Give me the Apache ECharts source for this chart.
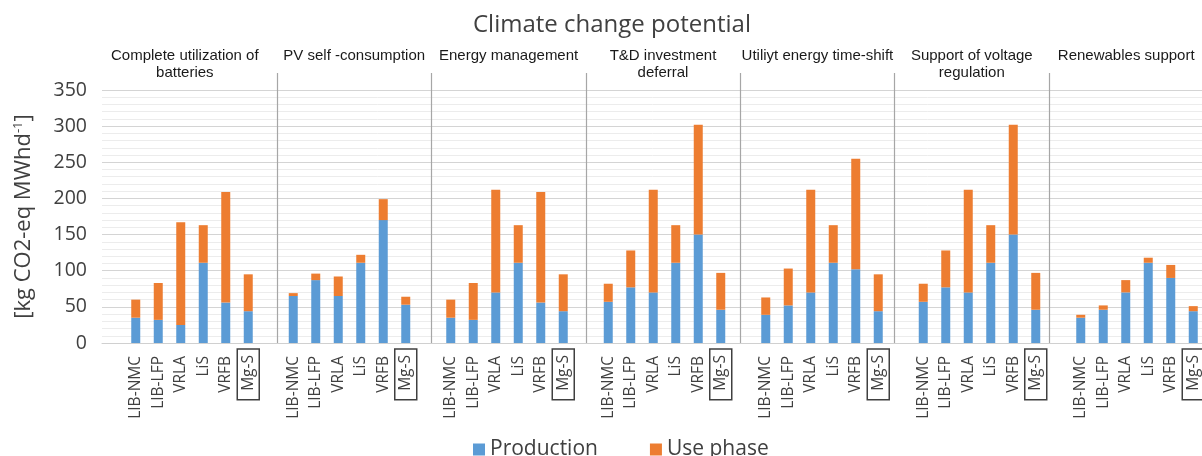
<!DOCTYPE html>
<html>
<head>
<meta charset="utf-8">
<script src="https://cdn.jsdelivr.net/npm/echarts@6/dist/echarts.min.js"></script>
<style>
  html, body { margin: 0; padding: 0; background: #fff; }
  #chart { width: 1202px; height: 456px; }
</style>
</head>
<body>
<div id="chart"></div>
<script>
// ---- data ----
const groups = [
  'Complete utilization of\nbatteries',
  'PV self -consumption',
  'Energy management',
  'T&D investment\ndeferral',
  'Utiliyt energy time-shift',
  'Support of voltage\nregulation',
  'Renewables support'
];
const technologies = ['LIB-NMC', 'LIB-LFP', 'VRLA', 'LiS', 'VRFB', 'Mg-S'];
const highlighted = 'Mg-S';
const yTicks = { min: 0, max: 350, step: 50 };

// Production [kg CO2-eq MWhd-1], one row per application group
const production = [
  [35, 32, 25, 111, 56, 44],
  [65, 87, 65, 111, 170, 53],
  [35, 32, 70, 111, 56, 44],
  [57, 77, 70, 111, 150, 46],
  [39, 52, 70, 111, 102, 44],
  [57, 77, 70, 111, 150, 46],
  [35, 46, 70, 111, 90, 44]
];
// Use phase [kg CO2-eq MWhd-1]
const usePhase = [
  [25, 51, 142, 52, 153, 51],
  [4, 9, 27, 11, 29, 11],
  [25, 51, 142, 52, 153, 51],
  [25, 51, 142, 52, 152, 51],
  [24, 51, 142, 52, 153, 51],
  [25, 51, 142, 52, 152, 51],
  [4, 6, 17, 7, 18, 7]
];

// ---- build category axis: each group = one empty slot + 6 technologies ----
const categories = [];
const prodData = [];
const useData = [];
groups.forEach((g, gi) => {
  categories.push(gi + '|');
  prodData.push(null);
  useData.push(null);
  technologies.forEach((t, ti) => {
    categories.push(gi + '|' + t);
    prodData.push(production[gi][ti]);
    useData.push(usePhase[gi][ti]);
  });
});

const SANS = '"Open Sans", "Noto Sans", sans-serif';
const ARIAL = '"Liberation Sans", Arial, sans-serif';

const chart = echarts.init(document.getElementById('chart'), null, { renderer: 'canvas' });
chart.setOption({
  animation: false,
  backgroundColor: '#ffffff',
  title: {
    text: 'Climate change potential',
    left: 468,
    top: 8,
    textStyle: { fontFamily: SANS, fontSize: 24, fontWeight: 'normal', color: '#404040' }
  },
  legend: {
    left: 468,
    top: 434,
    itemWidth: 12,
    itemHeight: 12,
    itemGap: 52,
    icon: 'rect',
    textStyle: { fontFamily: SANS, fontSize: 21, color: '#404040' },
    data: ['Production', 'Use phase']
  },
  grid: [
    { left: 102, right: -2.5, top: 90, bottom: 113, containLabel: false, outerBoundsMode: 'none' },
    { left: 122.6, right: -1.4, top: 73, bottom: 113, containLabel: false, outerBoundsMode: 'none' }
  ],
  xAxis: [
    {
      type: 'category',
      gridIndex: 0,
      data: categories,
      boundaryGap: true,
      axisLine: { show: true, lineStyle: { color: '#d0d0d0', width: 1 } },
      axisTick: { show: false },
      splitLine: { show: false },
      axisLabel: {
        interval: 0,
        rotate: 90,
        margin: 6,
        color: '#404040',
        fontFamily: SANS,
        fontSize: 15.5,
        hideOverlap: false,
        formatter: function (v) {
          const name = v.split('|')[1];
          if (!name) return '';
          if (name === highlighted) return '{box|' + name + '}';
          return '{n|' + name + '}';
        },
        rich: {
          n: { fontFamily: SANS, fontSize: 15.5, color: '#404040', padding: [0, 7, 0, 0] },
          box: {
            fontFamily: SANS, fontSize: 15.5, color: '#404040',
            borderColor: '#404040', borderWidth: 1.5,
            padding: [3, 6, 3, 9]
          }
        }
      }
    },
    {
      type: 'category',
      gridIndex: 1,
      position: 'top',
      data: groups,
      boundaryGap: true,
      axisLine: { show: false },
      axisTick: { show: false },
      splitLine: {
        show: true,
        interval: 0,
        showMinLine: false,
        showMaxLine: false,
        lineStyle: { color: '#a6a6a6', width: 1.2 }
      },
      axisLabel: {
        interval: 0,
        margin: 26,
        verticalAlign: 'top',
        color: '#1a1a1a',
        fontFamily: ARIAL,
        fontSize: 15,
        lineHeight: 17,
        hideOverlap: false,
        formatter: function (v, i) {
          return i === 0 ? '{first|' + v + '}' : v;
        },
        rich: {
          first: { fontFamily: ARIAL, fontSize: 15, lineHeight: 17, color: '#1a1a1a', padding: [0, 30, 0, 0] }
        }
      }
    }
  ],
  yAxis: [
    {
      type: 'value',
      gridIndex: 0,
      min: yTicks.min,
      max: yTicks.max,
      interval: yTicks.step,
      name: '[kg CO2-eq MWhd{sup|-1}]',
      nameLocation: 'middle',
      nameRotate: 90,
      nameGap: 67,
      nameTextStyle: {
        fontFamily: SANS, fontSize: 22, color: '#404040',
        rich: { sup: { fontFamily: SANS, fontSize: 13, color: '#404040', verticalAlign: 'bottom', padding: [0, 0, 10, 0] } }
      },
      axisLine: { show: false },
      axisTick: { show: false },
      axisLabel: { margin: 15, color: '#404040', fontFamily: SANS, fontSize: 19.5 },
      splitLine: { show: true, lineStyle: { color: '#d4d4d4', width: 1.2 } },
      minorTick: { show: false, splitNumber: 5 },
      minorSplitLine: { show: true, lineStyle: { color: '#ececec', width: 1 } }
    },
    { type: 'value', gridIndex: 1, show: false }
  ],
  series: [
    {
      name: 'Production',
      type: 'bar',
      stack: 'total',
      xAxisIndex: 0,
      yAxisIndex: 0,
      barWidth: 9,
      itemStyle: { color: '#5b9bd5' },
      data: prodData
    },
    {
      name: 'Use phase',
      type: 'bar',
      stack: 'total',
      xAxisIndex: 0,
      yAxisIndex: 0,
      barWidth: 9,
      itemStyle: { color: '#ed7d31' },
      data: useData
    }
  ]
});
</script>
</body>
</html>
